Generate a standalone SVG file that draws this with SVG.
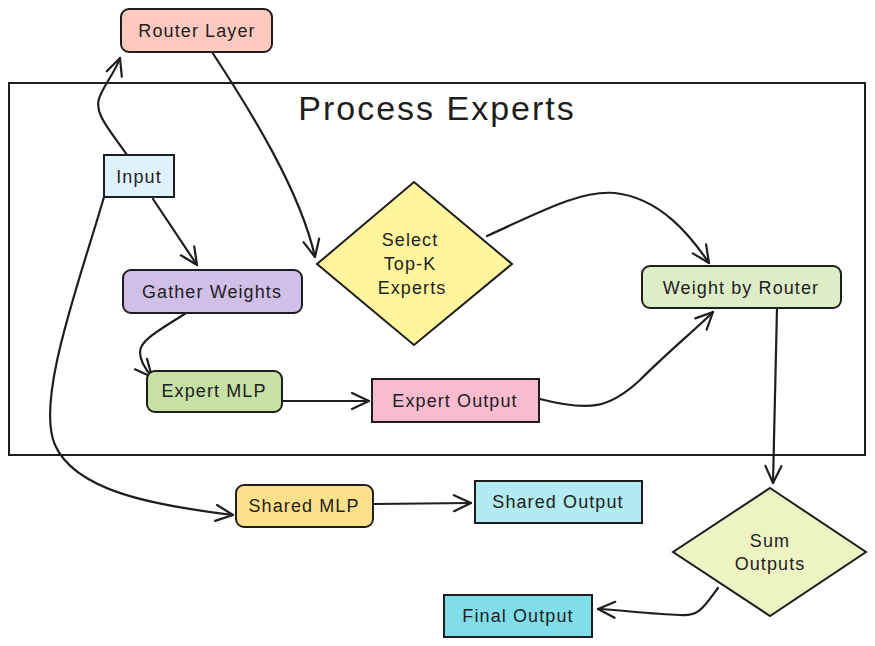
<svg xmlns="http://www.w3.org/2000/svg" width="875" height="646" viewBox="0 0 875 646">
<defs>
<style>
.n{stroke:#1e1e1e;stroke-width:2}
.t{font-family:"Liberation Sans","DejaVu Sans",sans-serif;font-size:18px;fill:#1e1e1e;text-anchor:middle;dominant-baseline:central;letter-spacing:1.1px}
.c{fill:none;stroke:#1e1e1e;stroke-width:2.2;stroke-linecap:round;marker-end:url(#ah)}
</style>
<marker id="ah" viewBox="-20 -12 24 24" markerWidth="24" markerHeight="24" refX="0" refY="0" orient="auto" markerUnits="userSpaceOnUse">
<path d="M-17,-8 L0,0 L-17,8" fill="none" stroke="#1e1e1e" stroke-width="2.2" stroke-linecap="round" stroke-linejoin="round"/>
</marker>
</defs>
<rect width="875" height="646" fill="#ffffff"/>
<g id="container">
<rect x="9" y="83" width="856" height="372" fill="none" stroke="#1e1e1e" stroke-width="2"/>
<text x="437" y="108" class="t" style="font-size:34px;letter-spacing:2px">Process Experts</text>
</g>
<g id="connectors">
<path class="c" d="M127,155 C110,130 92,112 100,96 C106,82 115,72 120,58"/>
<path class="c" d="M212,52 C250,110 300,190 315,257"/>
<path class="c" d="M153,199 L197,265"/>
<path class="c" d="M186,313 C160,330 140,340 140,352 C140,362 146,370 152,377"/>
<path class="c" d="M283,401 L369,401"/>
<path class="c" d="M540,399 C590,412 610,408 640,380 C670,350 695,330 713,312"/>
<path class="c" d="M487,236 C540,212 580,190 615,193 C660,198 690,235 709,263"/>
<path class="c" d="M777,308 L773,483"/>
<path class="c" d="M104,197 C80,280 35,400 55,445 C75,490 150,505 233,515"/>
<path class="c" d="M374,504 L471,503"/>
<path class="c" d="M718,588 C705,605 700,617 680,615 C650,614 620,610 598,609"/>
</g>
<g id="router-layer">
<rect class="n" x="121" y="9" width="151" height="43" rx="8" fill="#ffc9c0"/>
<text class="t" x="197" y="31">Router Layer</text>
</g>
<g id="input">
<rect class="n" x="104" y="155" width="70" height="42" fill="#e0f2fe"/>
<text class="t" x="139" y="177">Input</text>
</g>
<g id="gather-weights">
<rect class="n" x="123" y="270" width="179" height="43" rx="8" fill="#d0bfe8"/>
<text class="t" x="212" y="292">Gather Weights</text>
</g>
<g id="select-topk">
<polygon class="n" points="414,182 512,264 414,345 317,264" fill="#fff59d"/>
<text class="t" x="410" y="240">Select</text>
<text class="t" x="410" y="264">Top-K</text>
<text class="t" x="412" y="288">Experts</text>
</g>
<g id="weight-by-router">
<rect class="n" x="642" y="266" width="199" height="42" rx="8" fill="#dcedc8"/>
<text class="t" x="741" y="288">Weight by Router</text>
</g>
<g id="expert-mlp">
<rect class="n" x="147" y="371" width="135" height="41" rx="8" fill="#c5e1a5"/>
<text class="t" x="214" y="391">Expert MLP</text>
</g>
<g id="expert-output">
<rect class="n" x="372" y="379" width="167" height="43" fill="#f8bbd0"/>
<text class="t" x="455" y="401">Expert Output</text>
</g>
<g id="shared-mlp">
<rect class="n" x="236" y="485" width="137" height="42" rx="8" fill="#ffe08a"/>
<text class="t" x="304" y="506">Shared MLP</text>
</g>
<g id="shared-output">
<rect class="n" x="475" y="481" width="167" height="42" fill="#b2ebf2"/>
<text class="t" x="558" y="502">Shared Output</text>
</g>
<g id="sum-outputs">
<polygon class="n" points="770,488 866,552 770,616 673,552" fill="#eef3c4"/>
<text class="t" x="770" y="541">Sum</text>
<text class="t" x="770" y="564">Outputs</text>
</g>
<g id="final-output">
<rect class="n" x="444" y="595" width="148" height="42" fill="#80deea"/>
<text class="t" x="518" y="616">Final Output</text>
</g>
</svg>
